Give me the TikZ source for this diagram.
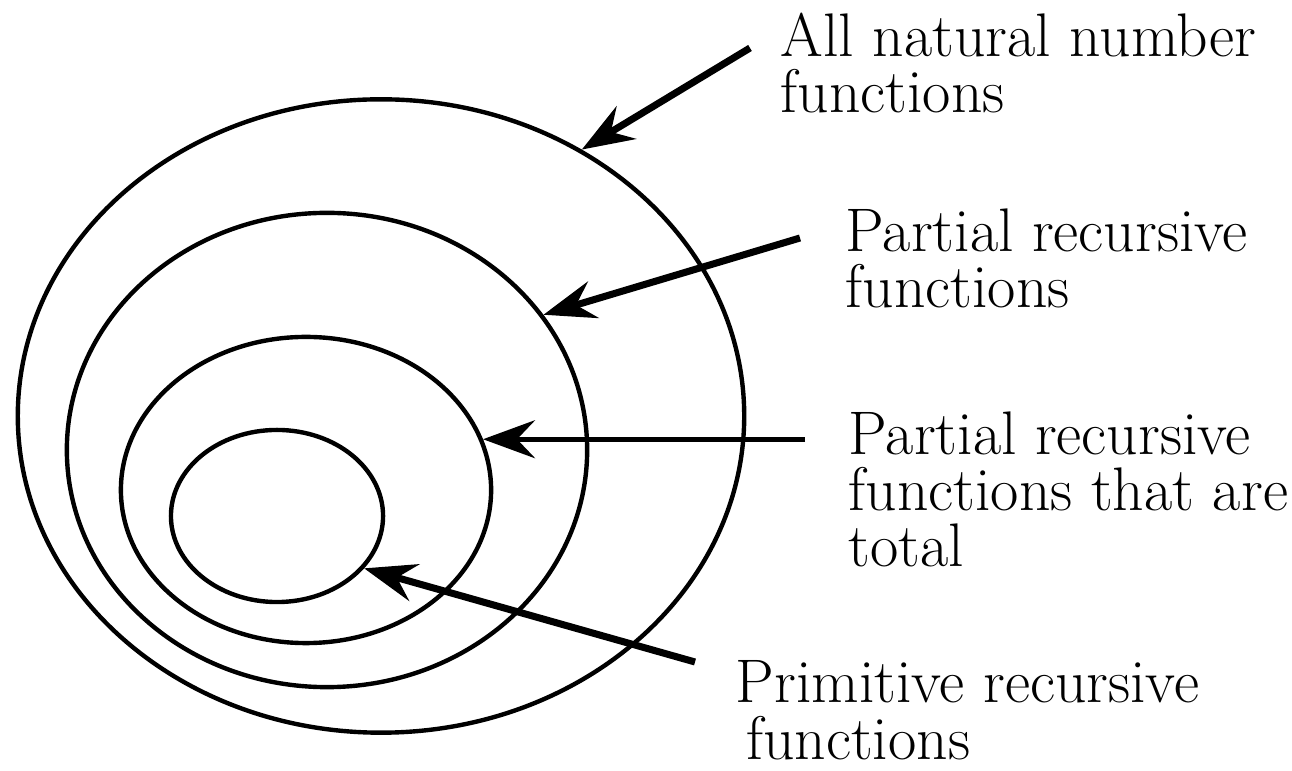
\documentclass[tikz,border=0pt]{standalone}
\usetikzlibrary{shapes.geometric,arrows.meta}

\begin{document}
\begin{tikzpicture}[x=0.01cm, y=-0.01cm,
  ring/.style = {draw, ellipse, line width=1.25pt, inner sep=0pt},
  lbl/.style = {anchor=north west, align=left, inner sep=0pt, font=\fontsize{17.5}{16}\selectfont},
  pointer/.style = {line width=2pt, -{Stealth[length=5.2mm, width=3.8mm, inset=1.8mm]}}]
\useasboundingbox (0,0) rectangle (1292,771);
\node[ring, minimum width=7.26cm, minimum height=6.33cm](all) at (381,416) {};
\node[ring, minimum width=5.20cm, minimum height=4.74cm](part) at (327,450) {};
\node[ring, minimum width=3.70cm, minimum height=3.06cm](tot) at (306,490) {};
\node[ring, minimum width=2.12cm, minimum height=1.72cm](prim) at (277,516) {};
\node[lbl](t1) at (780,12) {All natural number\\functions};
\node[lbl](t2) at (845,208) {Partial recursive\\functions};
\node[lbl](t3) at (848,411) {Partial recursive\\functions that are\\total};
\node[lbl](t4) at (735,660) {Primitive recursive\\\hspace*{3pt}functions};
\coordinate (s1) at (750,48); \coordinate (s2) at (800,238); \coordinate (s3) at (805,0); \coordinate (s4) at (695,662);
\draw[pointer] (s1) -- (all.53);
\draw[pointer] (s2) -- (part.32);
\draw[pointer, line width=1.4pt] (tot.16.5 -| s3) -- (tot.16.5);
\draw[pointer] (s4) -- (prim.-31);
\end{tikzpicture}
\end{document}
